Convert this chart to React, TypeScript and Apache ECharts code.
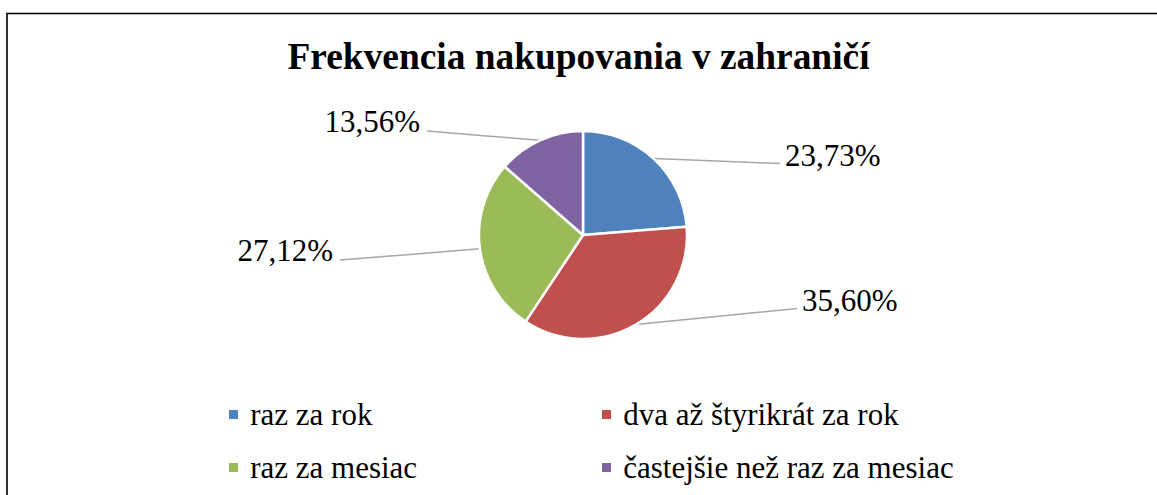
import React, { useEffect, useRef } from "react";
import * as echarts from "echarts";

const titleText = "Frekvencia nakupovania v zahraničí";
const categories = [
  "raz za rok",
  "dva až štyrikrát za rok",
  "raz za mesiac",
  "častejšie než raz za mesiac",
];
const values = [23.73, 35.6, 27.12, 13.56];
const colors = ["#4F81BD", "#C0504D", "#9BBB59", "#8064A2"];

// label anchor layout (x, y, align) per slice
const labelAnchors: [number, number, "left" | "right"][] = [
  [785, 155, "left"],
  [802, 300, "left"],
  [333, 250, "right"],
  [420, 121, "right"],
];

const FONT = "Liberation Serif";

export default function App() {
  const ref = useRef<HTMLDivElement>(null);
  useEffect(() => {
    if (!ref.current) return;
    const chart = echarts.init(ref.current, undefined, { renderer: "svg" });
    chart.setOption({
      animation: false,
      color: colors,
      title: {
        text: titleText,
        left: "center",
        top: 33,
        textStyle: { fontFamily: FONT, fontSize: 37.4, fontWeight: "bold", color: "#000" },
      },
      graphic: [
        {
          type: "rect",
          shape: { x: 7, y: 13.5, width: 1300, height: 700 },
          style: { fill: "none", stroke: "#000", lineWidth: 1.6 },
        },
      ],
      legend: [
        {
          orient: "vertical",
          left: 222,
          top: 394,
          itemGap: 22,
          itemWidth: 11,
          itemHeight: 11,
          icon: "rect",
          data: [categories[0], categories[2]],
          formatter: (name: string) => "\u2009" + name,
          textStyle: { fontFamily: FONT, fontSize: 31, color: "#000" },
        },
        {
          orient: "vertical",
          left: 595,
          top: 394,
          itemGap: 22,
          itemWidth: 11,
          itemHeight: 11,
          icon: "rect",
          data: [categories[1], categories[3]],
          formatter: (name: string) => "\u2009" + name,
          textStyle: { fontFamily: FONT, fontSize: 31, color: "#000" },
        },
      ],
      series: [
        {
          type: "pie",
          center: [583, 235],
          radius: 104,
          data: categories.map((name, i) => ({ name, value: values[i] })),
          itemStyle: { borderColor: "#fff", borderWidth: 2.5 },
          label: {
            formatter: (p: any) => p.value.toFixed(2).replace(".", ",") + "%",
            fontFamily: FONT,
            fontSize: 31,
            color: "#000",
          },
          labelLine: {
            lineStyle: { color: "#A6A6A6", width: 1.5 },
          },
          labelLayout: (params: any) => {
            const [x, y, align] = labelAnchors[params.dataIndex];
            const start = params.labelLinePoints ? params.labelLinePoints[0] : [x, y];
            const end = align === "left" ? [x - 5, y + 8.5] : [x + 7, y + 10];
            const mid = [(start[0] + end[0]) / 2, (start[1] + end[1]) / 2];
            return {
              x,
              y,
              align,
              verticalAlign: "middle",
              labelLinePoints: [start, mid, end],
            };
          },
        },
      ],
    });
    return () => chart.dispose();
  }, []);
  return (
    <div
      ref={ref}
      style={{ position: "absolute", left: 0, top: 0, width: 1157, height: 495 }}
    />
  );
}
